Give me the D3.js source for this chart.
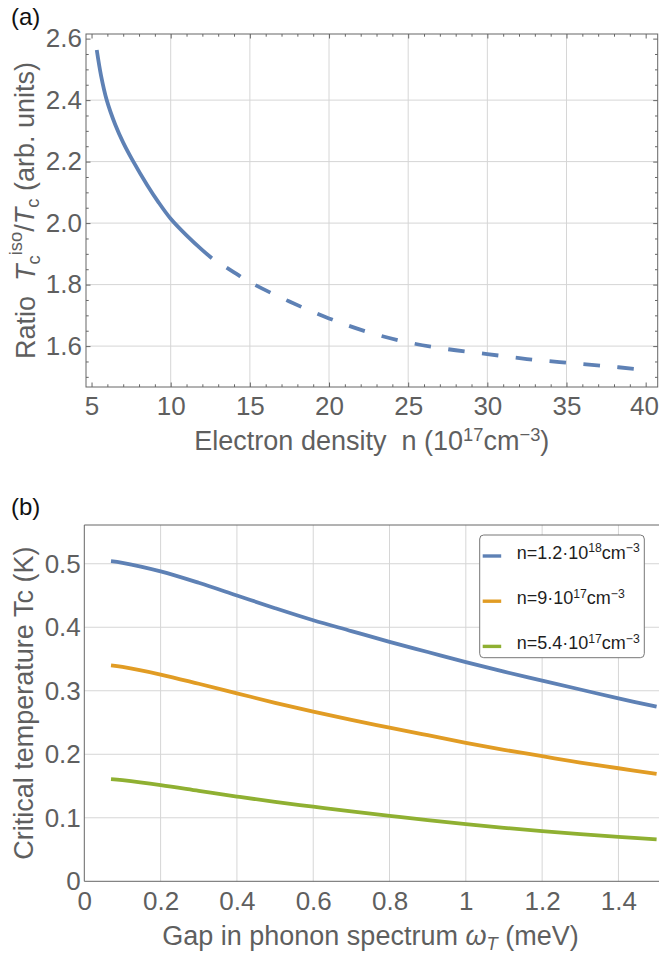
<!DOCTYPE html>
<html>
<head>
<meta charset="utf-8">
<script src="https://cdnjs.cloudflare.com/ajax/libs/d3/7.8.5/d3.min.js"></script>
<style>
body { margin: 0; background: #fff; }
svg text { font-family: "Liberation Sans", Arial, sans-serif; }
</style>
</head>
<body>
<svg id="chart" width="659" height="957"></svg>
<script>

// ---- panel (a) data: ratio Tc_iso / Tc vs electron density ----
var densitySolid  = [5.33, 5.6, 5.96, 6.5, 7, 7.64, 8.5, 9.2, 10, 11, 12, 12.6],
    ratioSolid    = [2.563, 2.48, 2.40, 2.32, 2.262, 2.20, 2.125, 2.07, 2.014, 1.96, 1.912, 1.886],
    densityDashed = [12.6, 14, 15, 17.5, 20, 22.5, 25, 27.5, 30, 32.5, 35, 37.5, 39.5],
    ratioDashed   = [1.886, 1.84, 1.808, 1.745, 1.69, 1.645, 1.612, 1.59, 1.574, 1.558, 1.546, 1.535, 1.525],
    densityTicks  = [5, 10, 15, 20, 25, 30, 35, 40],
    ratioTicks    = [1.6, 1.8, 2.0, 2.2, 2.4, 2.6];

// ---- panel (b) data: critical temperature vs phonon gap ----
var gap    = [0.07, 0.1, 0.2, 0.3, 0.4, 0.5, 0.6, 0.7, 0.8, 0.9, 1.0, 1.1, 1.2, 1.3, 1.4, 1.5],
    tcHigh = [0.504, 0.5015, 0.488, 0.470, 0.450, 0.430, 0.411, 0.394, 0.377, 0.361, 0.345, 0.330, 0.316, 0.302, 0.288, 0.275],
    tcMid  = [0.340, 0.3375, 0.3255, 0.311, 0.296, 0.281, 0.267, 0.254, 0.242, 0.230, 0.218, 0.207, 0.197, 0.187, 0.178, 0.169],
    tcLow  = [0.161, 0.1592, 0.1515, 0.1425, 0.1335, 0.125, 0.1175, 0.110, 0.103, 0.0962, 0.090, 0.0842, 0.079, 0.0743, 0.070, 0.066],
    seriesMant = ["n=1.2\u00b710", "n=9\u00b710", "n=5.4\u00b710"],
    seriesExp  = ["18", "17", "17"],
    gapTicks   = [0, 0.2, 0.4, 0.6, 0.8, 1, 1.2, 1.4],
    tcTicks    = [0, 0.1, 0.2, 0.3, 0.4, 0.5];

var colors = ["#5e81b5", "#e19c24", "#8fb032"],
    frameColor = "#666",
    gridColor = "#d6d6d6",
    textColor = "#5f5f5f",
    tickFont = 26,
    labelFont = 27;

var svg = d3.select("#chart");

// writes a list of segments into a text element (sub/sup/italic)
function richText(sel, parts) {
    parts.forEach(function(p) {
        var t = sel.append("tspan").text(p.t);
        if (p.i) t.style("font-style", "italic");
        if (p.sup) t.attr("dy", p.sup).style("font-size", "0.68em");
        if (p.sub) t.attr("dy", p.sub).style("font-size", "0.68em");
        if (p.back) t.attr("dy", p.back);
    });
}

function styleAxis(g) {
    g.select(".domain").remove();
    g.selectAll("line").attr("stroke", frameColor);
    g.selectAll("text").attr("fill", textColor).style("font-size", tickFont + "px")
        .style("font-family", '"Liberation Sans", Arial, sans-serif');
}

// ================= panel (a) =================
var xa = d3.scaleLinear().domain([4.65, 40.76]).range([86, 657.7]),
    ya = d3.scaleLinear().domain([1.467, 2.615]).range([387, 34]);

var pa = svg.append("g");

// grid
pa.append("g").selectAll("line").data([10, 15, 20, 25, 30, 35]).enter().append("line")
    .attr("x1", function(d) { return xa(d); }).attr("x2", function(d) { return xa(d); })
    .attr("y1", ya.range()[0]).attr("y2", ya.range()[1])
    .attr("stroke", gridColor);
pa.append("g").selectAll("line").data([1.6, 1.8, 2.0, 2.2, 2.4]).enter().append("line")
    .attr("y1", function(d) { return ya(d); }).attr("y2", function(d) { return ya(d); })
    .attr("x1", xa.range()[0]).attr("x2", xa.range()[1])
    .attr("stroke", gridColor);

var minorX = d3.range(5, 41).filter(function(d) { return d % 5 != 0; }),
    minorY = [1.5, 1.55, 1.65, 1.7, 1.75, 1.85, 1.9, 1.95, 2.05, 2.1, 2.15, 2.25, 2.3, 2.35, 2.45, 2.5, 2.55];

// ticks, all four sides pointing inward
pa.append("g").attr("transform", "translate(0," + ya.range()[0] + ")")
    .call(d3.axisBottom(xa).tickValues(densityTicks).tickSizeInner(-4.5).tickSizeOuter(0).tickPadding(10).tickFormat(d3.format("d")))
    .call(styleAxis)
    .selectAll("text").filter(function(d) { return d == 40; }).attr("x", -1.8); // keep "40" inside the page
pa.append("g").attr("transform", "translate(0," + ya.range()[0] + ")")
    .call(d3.axisBottom(xa).tickValues(minorX).tickSizeInner(-2.7).tickSizeOuter(0).tickFormat(""))
    .call(styleAxis);
pa.append("g").attr("transform", "translate(0," + ya.range()[1] + ")")
    .call(d3.axisTop(xa).tickValues(densityTicks).tickSizeInner(-4.5).tickSizeOuter(0).tickFormat(""))
    .call(styleAxis);
pa.append("g").attr("transform", "translate(0," + ya.range()[1] + ")")
    .call(d3.axisTop(xa).tickValues(minorX).tickSizeInner(-2.7).tickSizeOuter(0).tickFormat(""))
    .call(styleAxis);
pa.append("g").attr("transform", "translate(" + xa.range()[0] + ",0)")
    .call(d3.axisLeft(ya).tickValues(ratioTicks).tickSizeInner(-4.5).tickSizeOuter(0).tickPadding(4).tickFormat(d3.format(".1f")))
    .call(styleAxis);
pa.append("g").attr("transform", "translate(" + xa.range()[0] + ",0)")
    .call(d3.axisLeft(ya).tickValues(minorY).tickSizeInner(-2.7).tickSizeOuter(0).tickFormat(""))
    .call(styleAxis);
pa.append("g").attr("transform", "translate(" + xa.range()[1] + ",0)")
    .call(d3.axisRight(ya).tickValues(ratioTicks).tickSizeInner(-4.5).tickSizeOuter(0).tickFormat(""))
    .call(styleAxis);
pa.append("g").attr("transform", "translate(" + xa.range()[1] + ",0)")
    .call(d3.axisRight(ya).tickValues(minorY).tickSizeInner(-2.7).tickSizeOuter(0).tickFormat(""))
    .call(styleAxis);

var lineA = d3.line()
    .x(function(d) { return xa(d[0]); })
    .y(function(d) { return ya(d[1]); })
    .curve(d3.curveCatmullRom);

pa.append("path")
    .datum(d3.zip(densitySolid, ratioSolid))
    .attr("d", lineA)
    .attr("fill", "none").attr("stroke", colors[0]).attr("stroke-width", 3.8);

pa.append("path")
    .datum(d3.zip(densityDashed, ratioDashed))
    .attr("d", lineA)
    .attr("fill", "none").attr("stroke", colors[0]).attr("stroke-width", 3.8)
    .attr("stroke-dasharray", "16.5,17.5").attr("stroke-dashoffset", 16.5);

pa.append("rect")
    .attr("x", xa.range()[0]).attr("y", ya.range()[1])
    .attr("width", xa.range()[1] - xa.range()[0]).attr("height", ya.range()[0] - ya.range()[1])
    .attr("fill", "none").attr("stroke", frameColor);

// axis labels
richText(pa.append("text")
    .attr("x", (xa.range()[0] + xa.range()[1]) / 2).attr("y", 450)
    .attr("text-anchor", "middle").attr("fill", textColor).style("font-size", labelFont + "px"),
    [{t: "Electron density \u00a0n (10"}, {t: "17", sup: "-0.5em"}, {t: "cm", back: "0.34em"},
     {t: "\u22123", sup: "-0.5em"}, {t: ")", back: "0.34em"}]);

richText(pa.append("text")
    .attr("transform", "translate(35," + (ya.range()[0] + ya.range()[1]) / 2 + ") rotate(-90)")
    .attr("text-anchor", "middle").attr("fill", textColor).style("font-size", labelFont + "px"),
    [{t: "Ratio \u00a0"}, {t: "T", i: 1}, {t: "c", sub: "0.25em"}, {t: "iso", sup: "-0.95em"},
     {t: "/", back: "0.45em"}, {t: "T", i: 1}, {t: "c", sub: "0.25em"}, {t: " (arb. units)", back: "-0.17em"}]);

svg.append("text").attr("x", 11).attr("y", 25).text("(a)")
    .style("font-size", "24px").attr("fill", "#111");

// ================= panel (b) =================
var xb = d3.scaleLinear().domain([0, 1.5]).range([84.3, 656.6]),
    yb = d3.scaleLinear().domain([0, 0.561]).range([881.3, 525]);

var pb = svg.append("g");

pb.append("g").selectAll("line").data(gapTicks.slice(1)).enter().append("line")
    .attr("x1", function(d) { return xb(d); }).attr("x2", function(d) { return xb(d); })
    .attr("y1", yb.range()[0]).attr("y2", yb.range()[1])
    .attr("stroke", gridColor);
pb.append("g").selectAll("line").data(tcTicks.slice(1)).enter().append("line")
    .attr("y1", function(d) { return yb(d); }).attr("y2", function(d) { return yb(d); })
    .attr("x1", xb.range()[0]).attr("x2", 659)
    .attr("stroke", gridColor);

pb.append("g").attr("transform", "translate(0," + yb.range()[0] + ")")
    .call(d3.axisBottom(xb).tickValues(gapTicks).tickSize(0).tickPadding(10.5).tickFormat(d3.format("~g")))
    .call(styleAxis);
pb.append("g").attr("transform", "translate(" + xb.range()[0] + ",0)")
    .call(d3.axisLeft(yb).tickValues(tcTicks).tickSize(0).tickPadding(3.5).tickFormat(d3.format("~g")))
    .call(styleAxis);

var lineB = d3.line()
    .x(function(d) { return xb(d[0]); })
    .y(function(d) { return yb(d[1]); })
    .curve(d3.curveCatmullRom);

[tcHigh, tcMid, tcLow].forEach(function(s, i) {
    pb.append("path")
        .datum(d3.zip(gap, s))
        .attr("d", lineB)
        .attr("fill", "none").attr("stroke", colors[i]).attr("stroke-width", 3.8);
});

// frame: left, bottom, top (right side runs off the picture)
pb.append("path")
    .attr("d", "M659," + yb.range()[1] + "H" + xb.range()[0] + "V" + yb.range()[0] + "H659")
    .attr("fill", "none").attr("stroke", frameColor);

richText(pb.append("text")
    .attr("x", (xb.range()[0] + xb.range()[1]) / 2).attr("y", 945)
    .attr("text-anchor", "middle").attr("fill", textColor).style("font-size", labelFont + "px"),
    [{t: "Gap in phonon spectrum "}, {t: "\u03c9", i: 1}, {t: "T", i: 1, sub: "0.25em"}, {t: " (meV)", back: "-0.17em"}]);

pb.append("text")
    .attr("transform", "translate(33," + (yb.range()[0] + yb.range()[1]) / 2 + ") rotate(-90)")
    .attr("text-anchor", "middle").attr("fill", textColor).style("font-size", labelFont + "px")
    .text("Critical temperature Tc (K)");

svg.append("text").attr("x", 11).attr("y", 515).text("(b)")
    .style("font-size", "24px").attr("fill", "#111");

// legend
var legend = pb.append("g").attr("transform", "translate(479.7,535)");
legend.append("rect").attr("width", 164.6).attr("height", 122.7).attr("rx", 4)
    .attr("fill", "#fff").attr("stroke", "#777");

var rows = legend.selectAll("g.row").data(seriesMant).enter().append("g")
    .attr("class", "row")
    .attr("transform", function(d, i) { return "translate(0," + (21 + i * 45.2) + ")"; });
rows.append("line").attr("x1", 3).attr("x2", 21.5)
    .attr("stroke", function(d, i) { return colors[i]; }).attr("stroke-width", 3.4);
rows.each(function(d, i) {
    richText(d3.select(this).append("text").attr("x", 37).attr("y", 2.6)
        .attr("fill", "#1e1e1e").style("font-size", "18px"),
        [{t: d}, {t: seriesExp[i], sup: "-0.5em"}, {t: "cm", back: "0.34em"}, {t: "\u22123", sup: "-0.5em"}]);
});

</script>
</body>
</html>
